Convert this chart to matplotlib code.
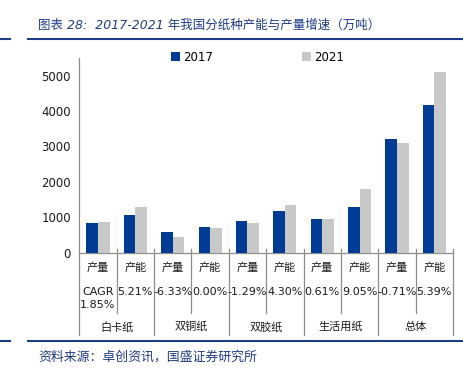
import matplotlib
matplotlib.use("Agg")
import matplotlib.pyplot as plt
from matplotlib.lines import Line2D
from matplotlib.patches import Patch
from matplotlib.transforms import blended_transform_factory

plt.rcParams['font.family'] = ['DejaVu Sans', 'Noto Sans CJK SC']

groups = ['白卡纸', '双铜纸', '双胶纸', '生活用纸', '总体']
sub_labels = ['产量', '产能'] * 5
values_2017 = [840, 1070, 585, 715, 895, 1165, 955, 1285, 3205, 4160]
values_2021 = [870, 1280, 435, 690, 825, 1340, 955, 1785, 3090, 5105]
cagr_labels = ['CAGR\n1.85%', '5.21%', '-6.33%', '0.00%', '-1.29%', '4.30%',
               '0.61%', '9.05%', '-0.71%', '5.39%']
series_names = ['2017', '2021']
yticks = [0, 1000, 2000, 3000, 4000, 5000]

BLUE = '#003C96'
GRAY = '#C8C8C8'
LINE = '#8C8C8C'
TITLE_BLUE = '#1F3C88'
W, H = 464, 371

fig = plt.figure(figsize=(W / 100, H / 100), dpi=100)

def fy(ypix):
    return (H - ypix) / H

ax_left, ax_right = 79.3, 453.0
ax_top, ax_bot = 58.0, 252.5
ax = fig.add_axes([ax_left / W, fy(ax_bot), (ax_right - ax_left) / W, (ax_bot - ax_top) / H])

x = list(range(len(values_2017)))
bw = 0.31
ax.bar([i - bw / 2 for i in x], values_2017, width=bw, color=BLUE, label=series_names[0], zorder=3)
ax.bar([i + bw / 2 for i in x], values_2021, width=bw, color=GRAY, label=series_names[1], zorder=3)

ax.set_xlim(-0.5, len(x) - 0.5)
ax.set_ylim(0, 5500)
ax.set_yticks(yticks)
ax.set_yticklabels([str(v) for v in yticks], fontsize=8.5, color='#1a1a1a')
ax.tick_params(axis='y', length=0, pad=6)
ax.set_xticks([])
for s in ['top', 'right']:
    ax.spines[s].set_visible(False)
for s in ['left', 'bottom']:
    ax.spines[s].set_color(LINE)
    ax.spines[s].set_linewidth(0.9)

# legend
handles = [Patch(facecolor=BLUE, edgecolor='none'), Patch(facecolor=GRAY, edgecolor='none')]
ax.legend(handles, series_names, ncol=2, loc='center', bbox_to_anchor=(0.477, 1.005),
          frameon=False, fontsize=8.5, handlelength=0.75, handleheight=0.75,
          handletextpad=0.25, columnspacing=7.6)

# multi-level category axis table
tr = blended_transform_factory(ax.transData, fig.transFigure)
for i in x:
    ax.text(i, fy(268), sub_labels[i], transform=tr, ha='center', va='center',
            fontsize=8, color='#1a1a1a', family=['Noto Sans CJK SC'])
    lbl = cagr_labels[i]
    if '\n' in lbl:
        a, b = lbl.split('\n')
        ax.text(i, fy(292), a, transform=tr, ha='center', va='center', fontsize=8, color='#1a1a1a')
        ax.text(i, fy(305), b, transform=tr, ha='center', va='center', fontsize=8, color='#1a1a1a')
    else:
        ax.text(i, fy(292), lbl, transform=tr, ha='center', va='center', fontsize=8, color='#1a1a1a')
for g, name in enumerate(groups):
    ax.text(2 * g + 0.5, fy(327), name, transform=tr, ha='center', va='center',
            fontsize=8, color='#1a1a1a', family=['Noto Sans CJK SC'])

ax.add_line(Line2D([-0.5, -0.5], [fy(ax_bot), fy(335)], transform=tr, color=LINE, lw=0.9, clip_on=False))
for k in range(len(x)):
    xs = k + 0.5
    bottom = 335 if k % 2 == 1 else 313
    ax.add_line(Line2D([xs, xs], [fy(249), fy(bottom)], transform=tr, color=LINE, lw=0.9, clip_on=False))

# title, rules and source
fig.text(38 / W, fy(25), '图表 28:  2017-2021 年我国分纸种产能与产量增速（万吨）',
         fontsize=9, color=TITLE_BLUE, style='italic', va='center', ha='left',
         family=['DejaVu Sans', 'Noto Sans CJK SC'])
for yline in [38.5, 340.7]:
    fig.add_artist(Line2D([0, 10 / W], [fy(yline), fy(yline)], color=TITLE_BLUE, lw=1.5))
    fig.add_artist(Line2D([28 / W, 1], [fy(yline), fy(yline)], color=TITLE_BLUE, lw=1.5))
fig.text(38 / W, fy(357), '资料来源：卓创资讯，国盛证券研究所', fontsize=9.3, color=TITLE_BLUE,
         style='italic', va='center', ha='left', family=['Noto Sans CJK SC'])

fig.savefig('out.png', dpi=100)
